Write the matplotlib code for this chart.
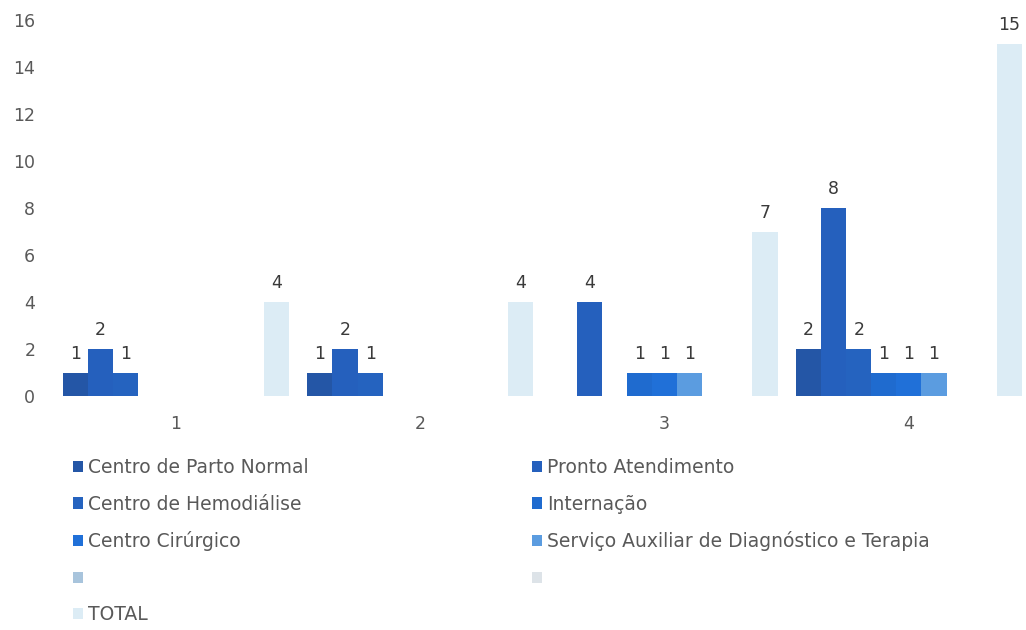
import matplotlib
matplotlib.use("Agg")
import matplotlib.pyplot as plt
import numpy as np

plt.rcParams['font.family'] = ['DejaVu Sans']

grupos = ['1', '2', '3', '4']
series = ['Centro de Parto Normal', 'Pronto Atendimento', 'Centro de Hemodiálise',
          'Internação', 'Centro Cirúrgico', 'Serviço Auxiliar de Diagnóstico e Terapia',
          '', '', 'TOTAL']

parto_normal = [1, 1, 0, 2]
pronto_atend = [2, 2, 4, 8]
hemodialise = [1, 1, 0, 2]
internacao = [0, 0, 1, 1]
cirurgico = [0, 0, 1, 1]
servico_aux = [0, 0, 1, 1]
vazio1 = [0, 0, 0, 0]
vazio2 = [0, 0, 0, 0]
total = [4, 4, 7, 15]

valores = [parto_normal, pronto_atend, hemodialise, internacao, cirurgico,
           servico_aux, vazio1, vazio2, total]
cores = ['#2456a6', '#2560bd', '#2563bf', '#1f6bcf', '#2070d8', '#5b9ce0',
         '#a8c4dc', '#dde3e8', '#dcecf5']

fig = plt.figure(figsize=(10.26, 6.3), dpi=100)
ax = fig.add_axes([54 / 1026, 1 - 396 / 630, 970 / 1026, 376 / 630])

x = np.arange(len(grupos))
w = 0.1027
handles = []
for k in range(len(series)):
    pos = x + (k - 4) * w
    b = ax.bar(pos, valores[k], width=w, color=cores[k], align='center')
    handles.append(b)
    for xi, v in zip(pos, valores[k]):
        if v > 0:
            ax.annotate(str(v), (xi, v), xytext=(0, 10), textcoords='offset points',
                        ha='center', va='baseline', fontsize=12.5, color='#3a3a3a')

ax.set_xlim(-0.4994, 3.471)
ax.set_ylim(0, 16)
ax.set_yticks(range(0, 17, 2))
ax.set_xticks(x)
ax.set_xticklabels(grupos)
ax.tick_params(axis='y', length=0, pad=13.5, labelsize=12.5, labelcolor='#595959')
ax.tick_params(axis='x', length=0, pad=14, labelsize=12.5, labelcolor='#595959')
for s in ax.spines.values():
    s.set_visible(False)

col1 = [0, 2, 4, 6, 8]
col2 = [1, 3, 5, 7]
opts = dict(frameon=False, fontsize=13.5, labelcolor='#595959', loc='upper left',
            borderpad=0, borderaxespad=0, handlelength=0.53, handleheight=0.53,
            handletextpad=0.27, labelspacing=0.94)
fig.legend([handles[i] for i in col1], [series[i] for i in col1],
           bbox_to_anchor=(73 / 1026, 1 - 458 / 630), **opts)
fig.legend([handles[i] for i in col2], [series[i] for i in col2],
           bbox_to_anchor=(532 / 1026, 1 - 458 / 630), **opts)

fig.savefig('out.png', dpi=100)
